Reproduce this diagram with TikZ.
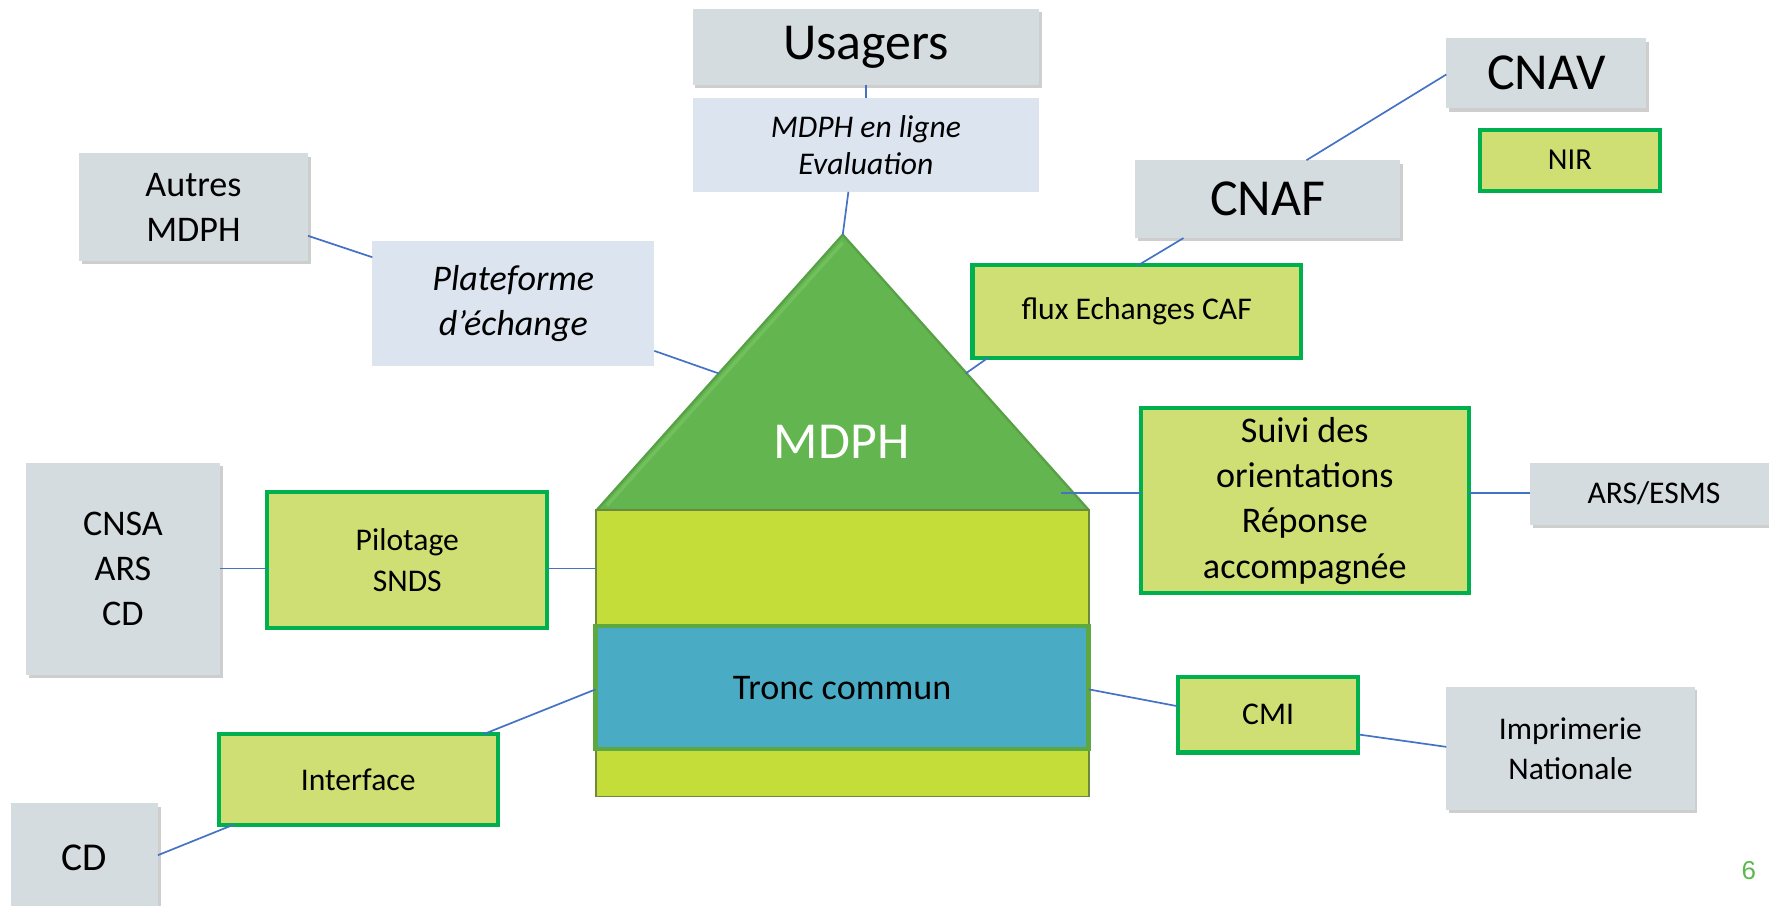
\documentclass[tikz,border=0pt]{standalone}
\usepackage{fontspec}
\setmainfont{Carlito}
\newfontfamily\arialfont{Liberation Sans}
\usetikzlibrary{shadows,calc}
\definecolor{grayfill}{HTML}{D5DCDF}
\definecolor{bluefill}{HTML}{DCE5EF}
\definecolor{limefill}{HTML}{CFDF73}
\definecolor{limeborder}{HTML}{00B04F}
\definecolor{linkblue}{HTML}{4472C4}
\definecolor{roofgreen}{HTML}{63B54F}
\definecolor{roofedge}{HTML}{58A045}
\definecolor{rooflight}{HTML}{78C563}
\definecolor{layerlime}{HTML}{C4DD39}
\definecolor{layeredge}{HTML}{6B8A3E}
\definecolor{tronc}{HTML}{4AABC5}
\definecolor{troncborder}{HTML}{5EA842}
\definecolor{pagegreen}{HTML}{5BB74F}
\tikzset{
  base/.style={inner sep=0pt, outer sep=0pt, align=center, text=black, rectangle},
  graybox/.style={base, fill=grayfill, drop shadow={shadow xshift=1.2pt, shadow yshift=-1.5pt, opacity=0.35, fill=black!55}},
  bluebox/.style={base, fill=bluefill},
  limebox/.style={base, fill=limefill, draw=limeborder, line width=1.8pt},
  layer/.style={base, fill=layerlime, draw=layeredge, line width=0.8pt},
  troncbox/.style={base, fill=tronc, draw=troncborder, line width=2pt},
  link/.style={draw=linkblue, line width=0.75pt},
  fbig/.style={font=\fontsize{23}{28}\selectfont},
  fmid/.style={font=\fontsize{16}{20}\selectfont},
  fsmall/.style={font=\fontsize{14}{17.5}\selectfont},
}
% \boxat[style]{name}{x1}{y1}{x2}{y2}{text}
\newcommand\boxat[7][]{%
  \node[#1, minimum width={(#5-#3)*0.5pt}, minimum height={(#6-#4)*0.5pt}]
    (#2) at ({(#3+#5)/2},{(#4+#6)/2}) {#7};}
\begin{document}
\begin{tikzpicture}[x=0.5pt,y=-0.5pt]
\useasboundingbox (0,0) rectangle (1568,803);

% gray boxes
\boxat[graybox, fbig]{usagers}{614}{8}{921}{75}{Usagers}
\boxat[graybox, fmid]{autres}{70}{136}{273}{231}{Autres\\MDPH}
\boxat[graybox, fbig]{cnav}{1282}{34}{1459}{96}{CNAV}
\boxat[graybox, fbig]{cnaf}{1006}{142}{1241}{211}{CNAF}
\boxat[graybox, fsmall]{arsesms}{1356}{410}{1576}{465}{ARS/ESMS}
\boxat[graybox, fmid]{cnsa}{23}{410}{195}{598}{CNSA\\ARS\\CD}
\boxat[graybox, font=\fontsize{17.5}{21}\selectfont]{cd}{10}{712}{140}{808}{CD}
\boxat[graybox, fsmall]{imprimerie}{1282}{609}{1502}{718}{Imprimerie\\Nationale}

% light blue boxes
\boxat[bluebox, font=\fontsize{14}{16.5}\selectfont\itshape]{enligne}{614}{87}{921}{170}{MDPH en ligne\\Evaluation}
\boxat[bluebox, font=\fontsize{16}{20}\selectfont\itshape]{plateforme}{330}{214}{580}{324}{Plateforme\\d’échange}

% lime boxes
\boxat[limebox, font=\fontsize{13.5}{16}\selectfont]{nir}{1312}{115}{1471}{169}{NIR}
\boxat[limebox, fsmall]{flux}{862}{235}{1153}{317}{flux Echanges CAF}
\boxat[limebox, fmid]{suivi}{1011}{362}{1302}{526}{Suivi des\\orientations\\Réponse\\accompagnée}
\boxat[limebox, font=\fontsize{14}{18}\selectfont]{pilotage}{237}{436}{485}{557}{Pilotage\\SNDS}
\boxat[limebox, fsmall]{interface}{194}{651}{441}{731}{Interface}
\boxat[limebox, fsmall]{cmi}{1044}{600}{1204}{667}{CMI}

% house
\coordinate (apex) at (747,208);
\coordinate (baseL) at (529,452);
\coordinate (baseR) at (965,452);
\fill[roofgreen] (apex) -- (baseL) -- (baseR) -- cycle;
\draw[roofedge, line width=1pt, line join=round] (apex) -- (baseL) -- (baseR) -- cycle;
\draw[rooflight, line width=1.5pt, opacity=0.7] ($(apex)+(0,7)$) -- ($(baseL)+(9,-4)$);
\node[base, text=white, fbig] (mdph) at (746,392) {MDPH};
\boxat[layer]{toplayer}{528}{452}{965}{555}{}
\boxat[layer]{botlayer}{528}{664}{965}{706}{}
\boxat[troncbox, fmid]{tronccommun}{528}{555}{965}{664}{Tronc commun}

% connection points
\coordinate (p1) at (752,170);
\coordinate (p2) at (273,209);
\coordinate (p3) at (330,228);
\coordinate (p4) at (580,311);
\coordinate (roofL) at (637,331);
\coordinate (p5) at (1282,66);
\coordinate (p6) at (1158,142);
\coordinate (p7) at (1049,211);
\coordinate (p8) at (1009,235);
\coordinate (p9) at (876,317);
\coordinate (roofR) at (856,331);
\coordinate (roofS) at (940,437);
\coordinate (p10) at (428,651);
\coordinate (p11) at (528,611);
\coordinate (p12) at (140,758);
\coordinate (p13) at (207,731);
\coordinate (p14) at (965,611);
\coordinate (p15) at (1044,626);
\coordinate (p16) at (1204,651);
\coordinate (p17) at (1282,662);
\coordinate (p18) at (1011,437);
\coordinate (p19) at (1302,437);
\coordinate (p20) at (1356,437);
\coordinate (p21) at (195,504);
\coordinate (p22) at (237,504);
\coordinate (p23) at (485,504);
\coordinate (p24) at (528,504);

% connectors
\draw[link] (usagers.south) -- (enligne.north);
\draw[link] (p1) -- (apex);
\draw[link] (p2) -- (p3);
\draw[link] (p4) -- (roofL);
\draw[link] (p5) -- (p6);
\draw[link] (p7) -- (p8);
\draw[link] (p9) -- (roofR);
\draw[link] (p18) -- (roofS);
\draw[link] (p19) -- (p20);
\draw[link] (p21) -- (p22);
\draw[link] (p23) -- (p24);
\draw[link] (p10) -- (p11);
\draw[link] (p12) -- (p13);
\draw[link] (p14) -- (p15);
\draw[link] (p16) -- (p17);

\node[text=pagegreen, font=\arialfont\fontsize{11.5}{14}\selectfont] (page) at (1550,772) {6};
\end{tikzpicture}
\end{document}
